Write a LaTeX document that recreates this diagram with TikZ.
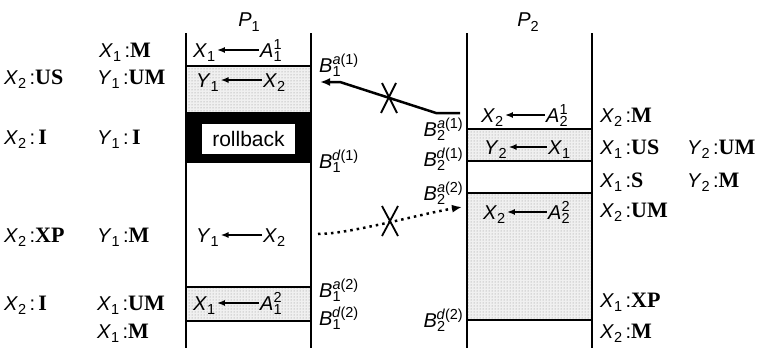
\documentclass[tikz,border=0pt]{standalone}
\usepackage{fontspec}
\setmainfont{Liberation Sans}
\newfontfamily\tmsf{Liberation Serif}
\usetikzlibrary{arrows.meta,patterns}
\newcommand\sbx[1]{\raisebox{-4.5pt}{\fontsize{14.5}{15}\selectfont #1}}
\newcommand\spx[1]{\raisebox{8pt}{\fontsize{14.5}{15}\selectfont #1}}
\newcommand\vv[2]{\textit{#1}\sbx{#2}}
\newcommand\vs[3]{\textit{#1}\sbx{#2}\llap{\spx{#3}}}
\newcommand\stt[1]{{\tmsf\bfseries\fontsize{22}{24}\selectfont #1}}
\newcommand\bb[3]{\textit{B}\sbx{#2}\llap{\spx{\textit{#1}}}\spx{(#3)}}
\begin{document}
\begin{tikzpicture}[x=1pt,y=-1pt,
  every node/.style={font=\fontsize{20}{22}\selectfont, inner sep=0pt},
  lw/.style={anchor=base west},
  le/.style={anchor=base east},
  colline/.style={line width=1.8pt},
  rowline/.style={line width=1.8pt},
  asg/.style={-{Latex[length=8pt,width=6pt]}, line width=1.7pt, shorten >=1.5pt, shorten <=1pt},
  cross/.style={line width=1.8pt}]
\useasboundingbox (0,0) rectangle (769,348);

% shaded regions
\foreach \a/\b/\c/\d in {187/66/311/112, 187/287/311/321, 467/129/592/161, 467/193/592/320}{
  \fill[black!6] (\a,\b) rectangle (\c,\d);
  \fill[pattern=dots, pattern color=black!45] (\a,\b) rectangle (\c,\d);
}
% rollback band
\fill[black] (186,112) rectangle (311,163);
\node[fill=white, minimum width=93pt, minimum height=30pt, font=\fontsize{21}{23}\selectfont] (rb) at (248.5,139) {rollback};

% column lines
\draw[colline] (186,33) -- (186,348);
\draw[colline] (311,33) -- (311,348);
\draw[colline] (467,33) -- (467,348);
\draw[colline] (592,33) -- (592,348);
% row lines
\draw[rowline] (186,66) -- (311,66);
\draw[rowline] (186,287) -- (311,287);
\draw[rowline] (186,321) -- (311,321);
\draw[rowline] (467,129) -- (592,129);
\draw[rowline] (467,161) -- (592,161);
\draw[rowline] (467,193) -- (592,193);
\draw[rowline] (467,320) -- (592,320);

% titles
\node (p1) at (249,22) {\vv P1};
\node (p2) at (528,22) {\vv P2};

% P1 contents
\node[lw] (r1l) at (193,57) {\vv X1};
\node[lw] (r1r) at (260,57) {\vs A11};
\draw[asg] ([yshift=7pt]r1r.base west) -- ([yshift=7pt]r1l.base east);
\node[lw] (r2l) at (196,87) {\vv Y1};
\node[lw] (r2r) at (263,87) {\vv X2};
\draw[asg] ([yshift=7pt]r2r.base west) -- ([yshift=7pt]r2l.base east);
\node[lw] (r3l) at (196,242) {\vv Y1};
\node[lw] (r3r) at (263,242) {\vv X2};
\draw[asg] ([yshift=7pt]r3r.base west) -- ([yshift=7pt]r3l.base east);
\node[lw] (r4l) at (193,310) {\vv X1};
\node[lw] (r4r) at (260,310) {\vs A12};
\draw[asg] ([yshift=7pt]r4r.base west) -- ([yshift=7pt]r4l.base east);

% P2 contents
\node[lw] (q1l) at (481,122) {\vv X2};
\node[lw] (q1r) at (546,122) {\vs A21};
\draw[asg] ([yshift=7pt]q1r.base west) -- ([yshift=7pt]q1l.base east);
\node[lw] (q2l) at (484,154) {\vv Y2};
\node[lw] (q2r) at (548,154) {\vv X1};
\draw[asg] ([yshift=7pt]q2r.base west) -- ([yshift=7pt]q2l.base east);
\node[lw] (q3l) at (483,219) {\vv X2};
\node[lw] (q3r) at (548,219) {\vs A22};
\draw[asg] ([yshift=7pt]q3r.base west) -- ([yshift=7pt]q3l.base east);

% left labels
\node[lw] (la1) at (4,84) {\vv X2\,:\stt{US}};
\node[lw] (la2) at (4,144) {\vv X2\,:\,\stt{I}};
\node[lw] (la3) at (4,242) {\vv X2\,:\stt{XP}};
\node[lw] (la4) at (4,310) {\vv X2\,:\,\stt{I}};
\node[lw] (lb0) at (99,57) {\vv X1\,:\stt{M}};
\node[lw] (lb1) at (97,84) {\vv Y1\,:\stt{UM}};
\node[lw] (lb2) at (97,144) {\vv Y1\,:\,\stt{I}};
\node[lw] (lb3) at (97,242) {\vv Y1\,:\stt{M}};
\node[lw] (lb4) at (97,310) {\vv X1\,:\stt{UM}};
\node[lw] (lb5) at (97,338) {\vv X1\,:\stt{M}};

% right labels
\node[lw] (ra1) at (600,122) {\vv X2\,:\stt{M}};
\node[lw] (ra2) at (600,154) {\vv X1\,:\stt{US}};
\node[lw] (ra3) at (600,187) {\vv X1\,:\stt{S}};
\node[lw] (ra4) at (600,217) {\vv X2\,:\stt{UM}};
\node[lw] (ra5) at (600,307) {\vv X1\,:\stt{XP}};
\node[lw] (ra6) at (600,338) {\vv X2\,:\stt{M}};
\node[lw] (rb2) at (687,154) {\vv Y2\,:\stt{UM}};
\node[lw] (rb3) at (687,187) {\vv Y2\,:\stt{M}};

% B labels
\node[lw] (b1a1) at (319,72) {\bb a11};
\node[lw] (b1d1) at (319,168) {\bb d11};
\node[lw] (b1a2) at (319,297) {\bb a12};
\node[lw] (b1d2) at (319,325) {\bb d12};
\node[le] (b2a1) at (463,136) {\bb a21};
\node[le] (b2d1) at (463,166) {\bb d21};
\node[le] (b2a2) at (463,200) {\bb a22};
\node[le] (b2d2) at (463,327) {\bb d22};

% messages
\coordinate (s0) at (460,113);
\coordinate (s1) at (436,113);
\coordinate (s2) at (340,82);
\coordinate (s3) at (320,82);
\draw[line width=2.5pt, -{Latex[length=10pt,width=8pt]}] (s0) -- (s1) -- (s2) -- (s3);
\coordinate (c1) at (389,98);
\draw[cross] ([shift={(-7,-15)}]c1) -- ([shift={(8,15)}]c1);
\draw[cross] ([shift={(7,-15)}]c1) -- ([shift={(-8,15)}]c1);

\coordinate (d0) at (318,234);
\coordinate (d1) at (462,207);
\draw[line width=2.5pt, dash pattern=on 2.5pt off 4pt, -{Latex[length=10pt,width=8pt]}] (d0) .. controls (350,234) and (420,214) .. (d1);
\coordinate (c2) at (390,221);
\draw[cross] ([shift={(-8,-15)}]c2) -- ([shift={(8,15)}]c2);
\draw[cross] ([shift={(8,-15)}]c2) -- ([shift={(-8,15)}]c2);
\end{tikzpicture}
\end{document}
